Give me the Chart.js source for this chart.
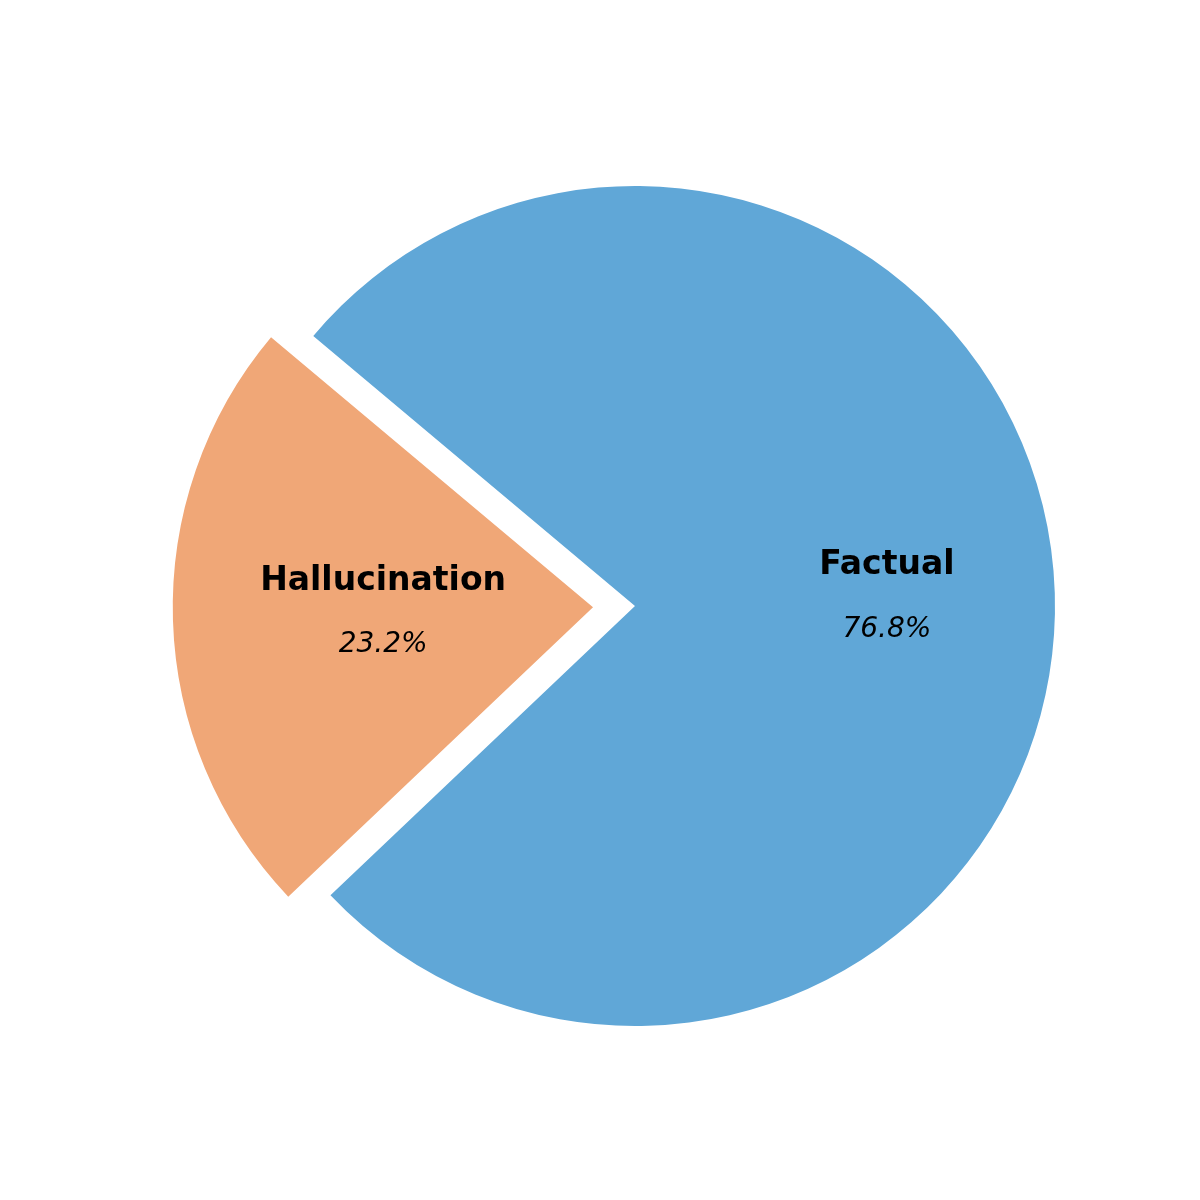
<!DOCTYPE html>
<html>
<head>
<meta charset="utf-8">
<script src="https://cdn.jsdelivr.net/npm/chart.js@4/dist/chart.umd.min.js"></script>
<style>
  html, body { margin: 0; padding: 0; background: #fff; }
  #wrap { width: 1200px; height: 1200px; position: relative; }
</style>
</head>
<body>
<div id="wrap"><canvas id="pieChart"></canvas></div>
<script>
const categories = ['Factual', 'Hallucination'];
const shares = [76.8, 23.2];
const colors = ['#60a7d7', '#f0a777'];

// Draw the category name and the percentage inside each slice
const sliceLabels = {
  id: 'sliceLabels',
  afterDatasetsDraw(chart, args, opts) {
    const ctx = chart.ctx;
    const meta = chart.getDatasetMeta(0);
    meta.data.forEach((arc, i) => {
      const mid = (arc.startAngle + arc.endAngle) / 2;
      const shift = (arc.options.offset || 0) / 4; // chart.js draws offset/4
      const dist = shift + opts.distance[i] * arc.outerRadius;
      const x = arc.x + Math.cos(mid) * dist;
      const y = arc.y + Math.sin(mid) * dist;
      ctx.save();
      ctx.fillStyle = '#000';
      ctx.textAlign = 'center';
      ctx.textBaseline = 'alphabetic';
      ctx.font = 'bold 33px "DejaVu Sans"';
      ctx.fillText(categories[i], x, y - 24);
      ctx.font = 'italic 28px "DejaVu Sans"';
      ctx.fillText(shares[i].toFixed(1) + '%', x, y + 38.5);
      ctx.restore();
    });
  }
};

new Chart(document.getElementById('pieChart'), {
  type: 'pie',
  data: {
    labels: categories,
    datasets: [{
      data: shares,
      backgroundColor: colors,
      borderWidth: 0,
      offset: [0, 168],
      radius: 420
    }]
  },
  options: {
    responsive: true,
    maintainAspectRatio: false,
    animation: false,
    events: [],
    rotation: -50,
    layout: { padding: { left: 70, right: 0, top: 12, bottom: 0 } },
    plugins: {
      legend: { display: false },
      tooltip: { enabled: false },
      sliceLabels: { distance: [0.6, 0.5] }
    }
  },
  plugins: [sliceLabels]
});
</script>
</body>
</html>
